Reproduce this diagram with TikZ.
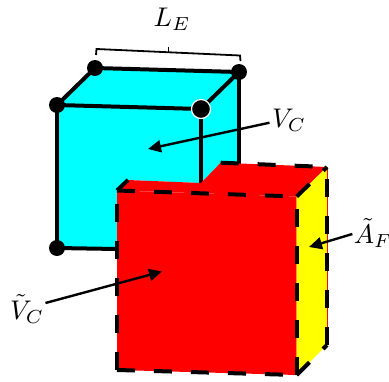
\documentclass[tikz,border=0pt]{standalone}
\usetikzlibrary{arrows.meta}
\definecolor{cub}{RGB}{0,255,255}
\definecolor{redf}{RGB}{255,0,0}
\definecolor{yelf}{RGB}{255,255,0}
\tikzset{
  dot/.style={circle,fill=black,inner sep=0pt,minimum size=16pt},
  halodot/.style={dot,draw=white,line width=1.2pt,minimum size=19pt},
  edgeline/.style={line width=4pt,black},
  dashline/.style={line width=4pt,black,dash pattern=on 18pt off 19pt},
  pointer/.style={line width=2.4pt,black,-{Triangle[length=13pt,width=12pt]}},
  brace/.style={line width=1.8pt,black},
  lab/.style={inner sep=0pt,scale=2.7,transform shape}
}
\begin{document}
\begin{tikzpicture}[x=1pt,y=-1pt]
\useasboundingbox (0,0) rectangle (389,381);
% blue cube corners
\coordinate (bl) at (239,164);
\coordinate (dl) at (201,183);
\coordinate (el) at (117,249);
\coordinate (a) at (95,68);
\coordinate (b) at (239,72);
\coordinate (c) at (57,105);
\coordinate (d) at (201,109);
\coordinate (e) at (57,248);
% red box corners
\coordinate (p) at (117,190.5);
\coordinate (q) at (296.7,196.5);
\coordinate (r) at (296.7,375);
\coordinate (s) at (117,370);
\coordinate (t) at (128,180);
\coordinate (u) at (201,183);
\coordinate (v) at (220.7,162.7);
\coordinate (w) at (327,167);
\coordinate (x) at (327,345);
\fill[cub] (c) -- (a) -- (b) -- (bl) -- (v) -- (u) -- (t) -- (p) -- (el) -- (e) -- cycle;
\draw[edgeline] (a) -- (b);
\draw[edgeline] (a) -- (c);
\draw[edgeline] (c) -- (d);
\draw[edgeline] (d) -- (b);
\draw[edgeline] (c) -- (e);
\draw[edgeline] (e) -- (el);
\draw[edgeline] (d) -- (dl);
\draw[edgeline] (b) -- (bl);
\node[dot] (na) at (a) {};
\node[dot] (nb) at (b) {};
\node[dot] (nc) at (c) {};
\node[halodot] (nd) at (d) {};
\node[dot] (ne) at (e) {};
% bracket
\coordinate (br1) at (96,55);
\coordinate (br2) at (96.5,49);
\coordinate (br3) at (240,55.5);
\coordinate (br4) at (240.5,61);
\coordinate (brm) at (168.5,52.3);
\coordinate (brt) at (168.5,47);
\draw[brace] (br1) -- (br2) -- (br3) -- (br4);
\draw[brace] (brm) -- (brt);
% red box
\fill[redf] (p) -- (t) -- (u) -- (v) -- (w) -- (q) -- cycle;
\fill[redf] (p) -- (q) -- (r) -- (s) -- cycle;
\fill[yelf] (q) -- (w) -- (x) -- (r) -- cycle;
\draw[redf,line width=1pt] (w) -- (x);
\draw[dashline] (p) -- (q);
\draw[dashline] (s) -- (p);
\draw[dashline] (s) -- (r);
\draw[dashline] (r) -- (q);
\draw[dashline] (x) -- (w);
\draw[dashline] (v) -- (w);
\draw[dashline] (q) -- (w);
\draw[dashline] (r) -- (x);
\draw[dashline] (p) -- (t);
% labels
\node[lab] (le) at (172,19) {$L_E$};
\node[lab] (vc) at (289,120) {$V_C$};
\node[lab] (af) at (373,233) {$\tilde{A}_F$};
\node[lab] (tv) at (27,309) {$\tilde{V}_C$};
\coordinate (tip1) at (148,149);
\coordinate (tip2) at (309,247);
\coordinate (tip3) at (162,271.5);
\coordinate (st1) at ([xshift=-2pt,yshift=-2.7pt]vc.west);
\coordinate (st2) at ([xshift=-1pt,yshift=-1pt]af.west);
\coordinate (st3) at ([xshift=1pt,yshift=6pt]tv.east);
\draw[pointer] (st1) -- (tip1);
\draw[pointer] (st2) -- (tip2);
\draw[pointer] (st3) -- (tip3);
\end{tikzpicture}
\end{document}
